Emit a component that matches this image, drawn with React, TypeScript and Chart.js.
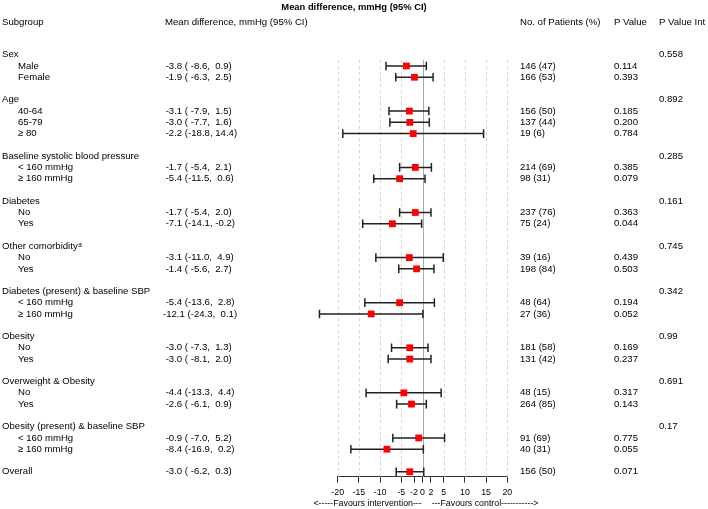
import React, { useEffect, useRef } from "react";
import { Chart, registerables } from "chart.js";

Chart.register(...registerables);

const titleText = "Mean difference, mmHg (95% CI)";
const headerLabels = ["Subgroup", "Mean difference, mmHg (95% CI)", "No. of Patients (%)", "P Value", "P Value Int"];

const groupLabels = [
  "Sex",
  "Age",
  "Baseline systolic blood pressure",
  "Diabetes",
  "Other comorbidity",
  "Diabetes (present) & baseline SBP",
  "Obesity",
  "Overweight & Obesity",
  "Obesity (present) & baseline SBP",
];
const groupSuperscripts = ["", "", "", "", "a", "", "", "", ""];
const groupPInt = ["0.558", "0.892", "0.285", "0.161", "0.745", "0.342", "0.99", "0.691", "0.17"];

const subgroupLabels = [
  "Male", "Female",
  "40-64", "65-79", "≥ 80",
  "< 160 mmHg", "≥ 160 mmHg",
  "No", "Yes",
  "No", "Yes",
  "< 160 mmHg", "≥ 160 mmHg",
  "No", "Yes",
  "No", "Yes",
  "< 160 mmHg", "≥ 160 mmHg",
  "Overall",
];
const subgroupGroup = [0, 0, 1, 1, 1, 2, 2, 3, 3, 4, 4, 5, 5, 6, 6, 7, 7, 8, 8, -1];
const meanDiff = [-3.8, -1.9, -3.1, -3.0, -2.2, -1.7, -5.4, -1.7, -7.1, -3.1, -1.4, -5.4, -12.1, -3.0, -3.0, -4.4, -2.6, -0.9, -8.4, -3.0];
const ciLow = [-8.6, -6.3, -7.9, -7.7, -18.8, -5.4, -11.5, -5.4, -14.1, -11.0, -5.6, -13.6, -24.3, -7.3, -8.1, -13.3, -6.1, -7.0, -16.9, -6.2];
const ciHigh = [0.9, 2.5, 1.5, 1.6, 14.4, 2.1, 0.6, 2.0, -0.2, 4.9, 2.7, 2.8, 0.1, 1.3, 2.0, 4.4, 0.9, 5.2, 0.2, 0.3];
const patients = ["146 (47)", "166 (53)", "156 (50)", "137 (44)", "19 (6)", "214 (69)", "98 (31)", "237 (76)", "75 (24)", "39 (16)", "198 (84)", "48 (64)", "27 (36)", "181 (58)", "131 (42)", "48 (15)", "264 (85)", "91 (69)", "40 (31)", "156 (50)"];
const pValues = ["0.114", "0.393", "0.185", "0.200", "0.784", "0.385", "0.079", "0.363", "0.044", "0.439", "0.503", "0.194", "0.052", "0.169", "0.237", "0.317", "0.143", "0.775", "0.055", "0.071"];

const xTicks = [-20, -15, -10, -5, -2, 0, 2, 5, 10, 15, 20];
const xGridLines = [-20, -15, -10, -5, 5, 10, 15, 20];
const favoursLeft = "<-----Favours intervention---";
const favoursRight = "---Favours control----------->";

function pad(v: number, w: number): string {
  const s = v.toFixed(1);
  return s.length < w ? " ".repeat(w - s.length) + s : s;
}

function buildRows() {
  const groupRow: number[] = [];
  const subRow: number[] = [];
  let r = 0;
  let g: number | null = null;
  subgroupLabels.forEach((_, i) => {
    const gi = subgroupGroup[i];
    if (gi !== g) {
      if (g !== null) r += 1;
      if (gi >= 0) {
        groupRow[gi] = r;
        r += 1;
      }
      g = gi;
    }
    subRow[i] = r;
    r += 1;
  });
  return { groupRow, subRow };
}

const FONT = "'Liberation Sans', Arial, sans-serif";

export default function App() {
  const ref = useRef<HTMLCanvasElement | null>(null);

  useEffect(() => {
    const canvas = ref.current;
    if (!canvas) return;
    const { groupRow, subRow } = buildRows();

    const forestPlugin = {
      id: "forest",
      beforeDatasetsDraw(chart: any) {
        const { ctx, chartArea } = chart;
        const x = chart.scales.x;
        const y = chart.scales.y;
        ctx.save();
        ctx.lineWidth = 1;
        ctx.strokeStyle = "#d4d4d4";
        ctx.setLineDash([3, 3]);
        xGridLines.forEach((v) => {
          const px = Math.round(x.getPixelForValue(v)) + 0.5;
          ctx.beginPath();
          ctx.moveTo(px, chartArea.top);
          ctx.lineTo(px, chartArea.bottom);
          ctx.stroke();
        });
        ctx.setLineDash([]);
        ctx.strokeStyle = "#a8a8a8";
        const zx = Math.round(x.getPixelForValue(0)) + 0.5;
        ctx.beginPath();
        ctx.moveTo(zx, chartArea.top);
        ctx.lineTo(zx, chartArea.bottom);
        ctx.stroke();

        ctx.strokeStyle = "#222";
        ctx.lineWidth = 1.5;
        subgroupLabels.forEach((_, i) => {
          const yy = y.getPixelForValue(subRow[i]);
          const x1 = x.getPixelForValue(ciLow[i]);
          const x2 = x.getPixelForValue(ciHigh[i]);
          ctx.beginPath();
          ctx.moveTo(x1, yy);
          ctx.lineTo(x2, yy);
          ctx.moveTo(x1, yy - 4.3);
          ctx.lineTo(x1, yy + 4.3);
          ctx.moveTo(x2, yy - 4.3);
          ctx.lineTo(x2, yy + 4.3);
          ctx.stroke();
        });
        ctx.restore();
      },
      afterDraw(chart: any) {
        const { ctx } = chart;
        const x = chart.scales.x;
        const y = chart.scales.y;
        ctx.save();
        ctx.fillStyle = "#000";
        ctx.textBaseline = "middle";

        ctx.font = `bold 9.4px ${FONT}`;
        ctx.textAlign = "center";
        ctx.fillText(titleText, 354, 7);

        ctx.font = `9.6px ${FONT}`;
        ctx.textAlign = "left";
        const colX = [2, 165, 520, 614, 659];
        headerLabels.forEach((h, k) => ctx.fillText(h, colX[k], 22.5));

        groupLabels.forEach((g, gi) => {
          const yy = y.getPixelForValue(groupRow[gi]);
          ctx.font = `9.6px ${FONT}`;
          ctx.fillText(g, 2, yy);
          if (groupSuperscripts[gi]) {
            const w = ctx.measureText(g).width;
            ctx.font = `6.5px ${FONT}`;
            ctx.fillText(groupSuperscripts[gi], 2 + w + 0.5, yy - 1.5);
            ctx.font = `9.6px ${FONT}`;
          }
          ctx.fillText(groupPInt[gi], 659, yy);
        });

        ctx.font = `9.6px ${FONT}`;
        subgroupLabels.forEach((s, i) => {
          const yy = y.getPixelForValue(subRow[i]);
          const indent = subgroupGroup[i] >= 0 ? 18 : 2;
          ctx.fillText(s, indent, yy);
          const md = `${pad(meanDiff[i], 5)} (${pad(ciLow[i], 5)}, ${pad(ciHigh[i], 4)})`;
          ctx.fillText(md, 163, yy);
          ctx.fillText(patients[i], 520, yy);
          ctx.fillText(pValues[i], 614, yy);
        });

        ctx.font = `8.8px ${FONT}`;
        const zx = x.getPixelForValue(0);
        ctx.textAlign = "right";
        ctx.fillText(favoursLeft, zx - 0.8, 504);
        ctx.textAlign = "left";
        ctx.fillText(favoursRight, zx + 9.2, 504);
        ctx.restore();
      },
    };

    const chart = new Chart(canvas, {
      type: "scatter",
      data: {
        datasets: [
          {
            data: meanDiff.map((m, i) => ({ x: m, y: subRow[i] })),
            pointStyle: "rect",
            pointRadius: 4.8,
            pointHoverRadius: 4.8,
            backgroundColor: "#ff0000",
            borderColor: "#ff0000",
            borderWidth: 0,
            clip: false,
          } as any,
        ],
      },
      options: {
        responsive: false,
        animation: false,
        devicePixelRatio: 1,
        layout: { padding: { left: 337.7, right: 708 - 507.3, top: 60, bottom: 0 } },
        plugins: { legend: { display: false }, tooltip: { enabled: false } },
        scales: {
          x: {
            type: "linear",
            min: -20,
            max: 20,
            afterBuildTicks: (s: any) => {
              s.ticks = xTicks.map((v) => ({ value: v }));
            },
            afterFit: (s: any) => {
              s.height = 509 - 476.7;
            },
            ticks: {
              autoSkip: false,
              maxRotation: 0,
              color: "#000",
              padding: 5,
              font: { family: FONT, size: 8.8 },
              callback: (v: any) => String(v),
            },
            grid: { drawOnChartArea: false, drawTicks: true, tickLength: 6, color: "#333", lineWidth: 1 },
            border: { display: true, color: "#333", width: 1 },
          },
          y: {
            type: "linear",
            display: false,
            reverse: true,
            min: 0.47,
            max: 37.44,
          },
        },
      },
      plugins: [forestPlugin],
    } as any);

    return () => chart.destroy();
  }, []);

  return (
    <div style={{ position: "fixed", left: 0, top: 0, width: 708, height: 509, background: "#fff" }}>
      <canvas ref={ref} width={708} height={509} style={{ width: 708, height: 509, display: "block" }} />
    </div>
  );
}
